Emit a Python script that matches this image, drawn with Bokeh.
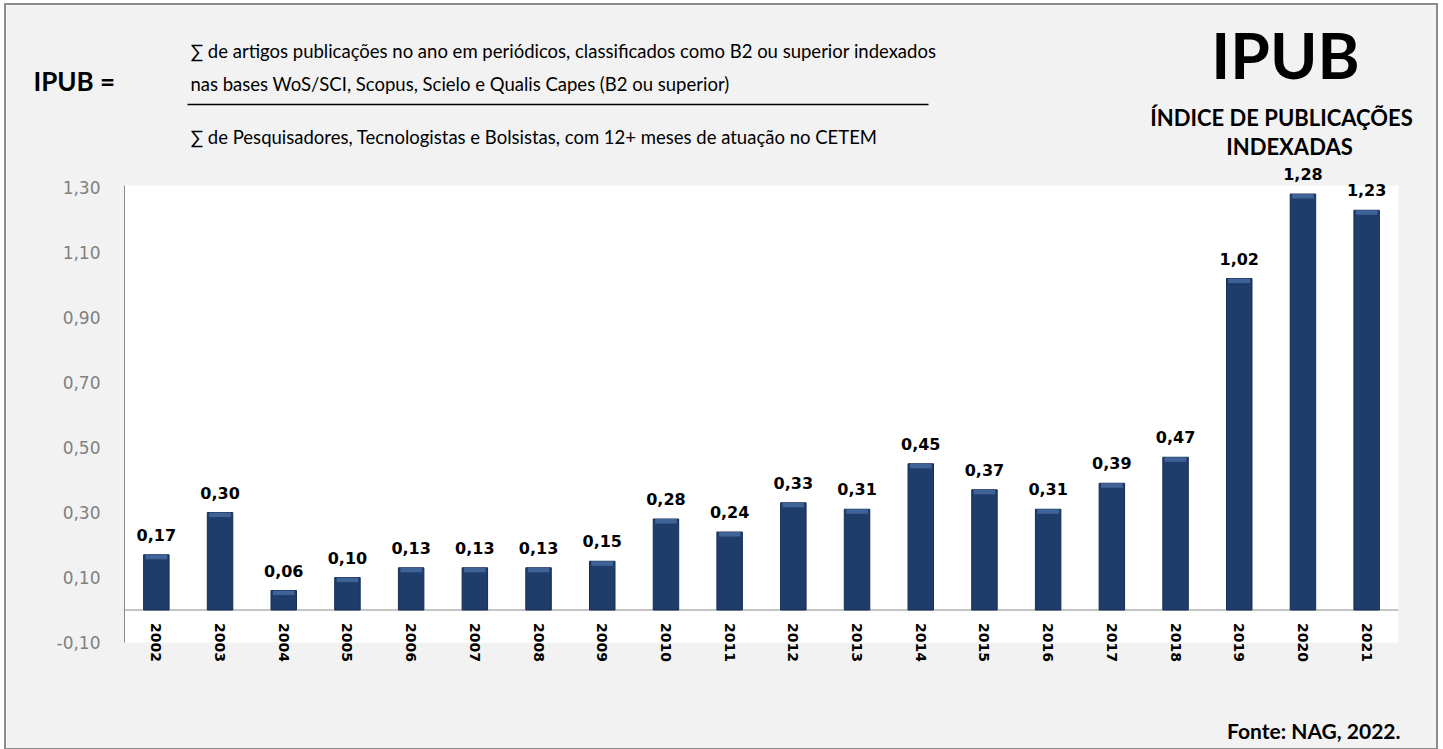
from bokeh.plotting import figure
from bokeh.models import Range1d, FixedTicker, CustomJSTickFormatter, Label, Arrow
from bokeh.embed import file_html
from bokeh.resources import INLINE

# ---- data ----
years = ["2002", "2003", "2004", "2005", "2006", "2007", "2008", "2009", "2010", "2011",
         "2012", "2013", "2014", "2015", "2016", "2017", "2018", "2019", "2020", "2021"]
ipub = [0.17, 0.30, 0.06, 0.10, 0.13, 0.13, 0.13, 0.15, 0.28, 0.24,
        0.33, 0.31, 0.45, 0.37, 0.31, 0.39, 0.47, 1.02, 1.28, 1.23]
y_ticks = [-0.10, 0.10, 0.30, 0.50, 0.70, 0.90, 1.10, 1.30]

title_main = "IPUB"
title_sub1 = "ÍNDICE DE PUBLICAÇÕES"
title_sub2 = "INDEXADAS"
formula_lhs = "IPUB ="
formula_num1 = "∑ de artigos publicações no ano em periódicos, classificados como B2 ou superior indexados"
formula_num2 = "nas bases WoS/SCI, Scopus, Scielo e Qualis Capes  (B2 ou superior)"
formula_den = "∑  de Pesquisadores, Tecnologistas e Bolsistas, com 12+ meses de atuação no CETEM"
source_txt = "Fonte: NAG, 2022."

# ---- layout constants (page pixels) ----
OX, OY = 6, 5            # figure offset on the page
W, H = 1430, 743
N = len(years)
PLOT_L, PLOT_R = 124, 1398     # plot area left/right on page
ZERO_Y = 609.5                 # page y of value 0
PX_Y = 325.0                   # pixels per 1.0 of value
PX_X = (PLOT_R - PLOT_L) / N
Y_BOTTOM, PLOT_TOP = -0.10, 1.306

x_start = -(PLOT_L - OX) / PX_X
x_end = (OX + W - PLOT_L) / PX_X
y_end = (ZERO_Y - OY) / PX_Y
y_start = -(OY + H - ZERO_Y) / PX_Y


def dx(page_x):
    return (page_x - PLOT_L) / PX_X


def dy(page_y):
    return (ZERO_Y - page_y) / PX_Y


positions = [i + 0.5 for i in range(N)]

p = figure(width=W, height=H, x_range=Range1d(x_start, x_end), y_range=Range1d(y_start, y_end),
           output_backend="svg", toolbar_location=None,
           min_border_left=0, min_border_right=0, min_border_top=0, min_border_bottom=0)
p.margin = (OY, 0, 0, OX)
p.styles = {"outline": "2px solid #8c8c8c"}
p.border_fill_color = "#f2f2f2"
p.background_fill_color = "#f2f2f2"
p.outline_line_color = None
p.xgrid.grid_line_color = None
p.ygrid.grid_line_color = None

# white plot area and axis lines
p.quad(left=[0], right=[N], bottom=[Y_BOTTOM], top=[PLOT_TOP],
       fill_color="white", line_color=None, level="underlay")
p.segment(x0=[0, 0], y0=[Y_BOTTOM, 0], x1=[0, N], y1=[PLOT_TOP, 0],
          line_color="#8a8a8a", line_width=1)

# x axis at zero
xa = p.xaxis[0]
xa.fixed_location = 0
xa.ticker = FixedTicker(ticks=positions)
xa.major_label_overrides = {pos: yr for pos, yr in zip(positions, years)}
xa.major_label_orientation = "vertical"
xa.major_label_text_font = "DejaVu Sans"
xa.major_label_text_font_style = "bold"
xa.major_label_text_font_size = "14px"
xa.major_label_text_color = "black"
xa.major_label_standoff = 7
xa.major_tick_line_color = None
xa.minor_tick_line_color = None
xa.axis_line_color = None

ya = p.yaxis[0]
ya.fixed_location = 0
ya.ticker = FixedTicker(ticks=y_ticks)
ya.formatter = CustomJSTickFormatter(code="return tick.toFixed(2).replace('.', ',');")
ya.major_label_text_font = "DejaVu Sans"
ya.major_label_text_font_size = "17px"
ya.major_label_text_color = "#808080"
ya.major_label_standoff = 18
ya.major_tick_line_color = None
ya.minor_tick_line_color = None
ya.axis_line_color = None

# bars
p.vbar(x=positions, top=ipub, bottom=0, width=0.40,
       fill_color="#1f3d6b", line_color="#152d52", line_width=1)
p.vbar(x=positions, top=ipub, bottom=[v - 0.014 for v in ipub], width=0.34,
       fill_color="#3f6397", line_color=None)

for pos, v in zip(positions, ipub):
    p.add_layout(Label(x=pos, y=v, y_offset=20, text=f"{v:.2f}".replace(".", ","),
                       text_align="center", text_baseline="alphabetic",
                       text_font="DejaVu Sans", text_font_style="bold",
                       text_font_size="16px", text_color="black"))


def lab(x, y, t, size, bold=False, align="left", font="Lato"):
    # y is the wanted baseline; the renderer sits text ~0.4em lower, so lift it
    p.add_layout(Label(x=x, y=y, y_offset=0.4 * size, text=t, text_align=align,
                       text_baseline="alphabetic",
                       text_font=font, text_font_style="bold" if bold else "normal",
                       text_font_size=f"{size}px", text_color="black"))


lab(dx(1285), dy(80), title_main, 64, bold=True, align="center")
lab(dx(1281), dy(126), title_sub1, 22, bold=True, align="center")
lab(dx(1289), dy(155), title_sub2, 22, bold=True, align="center")
lab(dx(33), dy(91), formula_lhs, 26, bold=True)
lab(dx(190), dy(58), formula_num1, 18.5)
lab(dx(190), dy(91), formula_num2, 18.5)
lab(dx(190), dy(144), formula_den, 18.5)
lab(dx(1400), dy(738), source_txt, 21, bold=True, align="right")

p.add_layout(Arrow(end=None, x_start=dx(187), y_start=dy(104), x_end=dx(928), y_end=dy(104),
                   line_color="black", line_width=1.5))

open("out.html", "w").write(file_html(p, INLINE))
